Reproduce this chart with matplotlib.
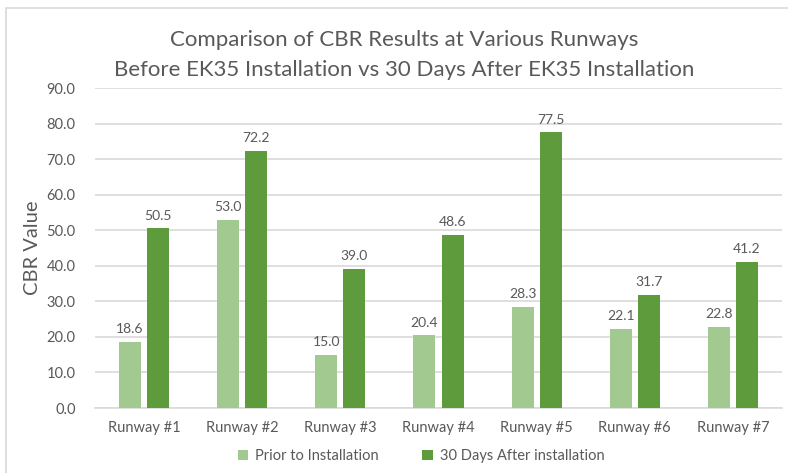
import matplotlib
matplotlib.use("Agg")
import matplotlib.pyplot as plt
import numpy as np
from matplotlib.patches import Rectangle

categories = ["Runway #1", "Runway #2", "Runway #3", "Runway #4", "Runway #5", "Runway #6", "Runway #7"]
prior = [18.6, 53.0, 15.0, 20.4, 28.3, 22.1, 22.8]
after = [50.5, 72.2, 39.0, 48.6, 77.5, 31.7, 41.2]
series_names = ["Prior to Installation", "30 Days After installation"]
yticks = [0, 10, 20, 30, 40, 50, 60, 70, 80, 90]

plt.rcParams['font.family'] = ['Lato', 'DejaVu Sans']
TXT = "#595959"
C_LIGHT = "#A2C98F"
C_DARK = "#5E9B3C"

fig = plt.figure(figsize=(7.88, 4.73), dpi=100)
ax = fig.add_axes([95/788, 1-408/473, (782-95)/788, (408-88)/473])

x = np.arange(len(categories))
w = 0.224
off = 0.143
b1 = ax.bar(x - off, prior, w, color=C_LIGHT, label=series_names[0], zorder=3)
b2 = ax.bar(x + off, after, w, color=C_DARK, label=series_names[1], zorder=3)
for bars in (b1, b2):
    ax.bar_label(bars, labels=[f"{v:.1f}" for v in bars.datavalues], padding=5,
                 fontsize=10, color=TXT)

ax.set_xlim(-0.5, len(categories) - 0.5)
ax.set_ylim(0, 90)
ax.set_yticks(yticks)
ax.set_yticklabels([f"{v:.1f}" for v in yticks], fontsize=10.5, color=TXT)
ax.set_xticks(x)
ax.set_xticklabels(categories, fontsize=10.5, color=TXT)
ax.tick_params(axis='y', length=0, pad=14)
ax.tick_params(axis='x', length=0, pad=9)
ax.grid(axis='y', color="#D9D9D9", linewidth=1.2, zorder=0)
for s in ["top", "right", "left"]:
    ax.spines[s].set_visible(False)
ax.spines["bottom"].set_color("#D9D9D9")
ax.spines["bottom"].set_linewidth(1.2)

ax.set_ylabel("CBR Value", fontsize=14.5, color=TXT, labelpad=4)

fig.text(404/788, 1-40/473, "Comparison of CBR Results at Various Runways", ha='center', va='center',
         fontsize=16, color=TXT)
fig.text(404/788, 1-70/473, "Before EK35 Installation vs 30 Days After EK35 Installation", ha='center',
         va='center', fontsize=16, color=TXT)

leg = fig.legend(loc='center', bbox_to_anchor=(421/788, 1-456/473), ncol=2, frameon=False,
                 fontsize=10.5, handlelength=0.7, handleheight=0.7, columnspacing=3.0, handletextpad=0.5)
for t in leg.get_texts():
    t.set_color(TXT)

fig.patches.append(Rectangle((6/788, -0.05), 1.1, 1 - 8/473 + 0.05, transform=fig.transFigure,
                             fill=False, edgecolor="#D9D9D9", linewidth=1.2))

fig.savefig("out.png", dpi=100, facecolor="white")
